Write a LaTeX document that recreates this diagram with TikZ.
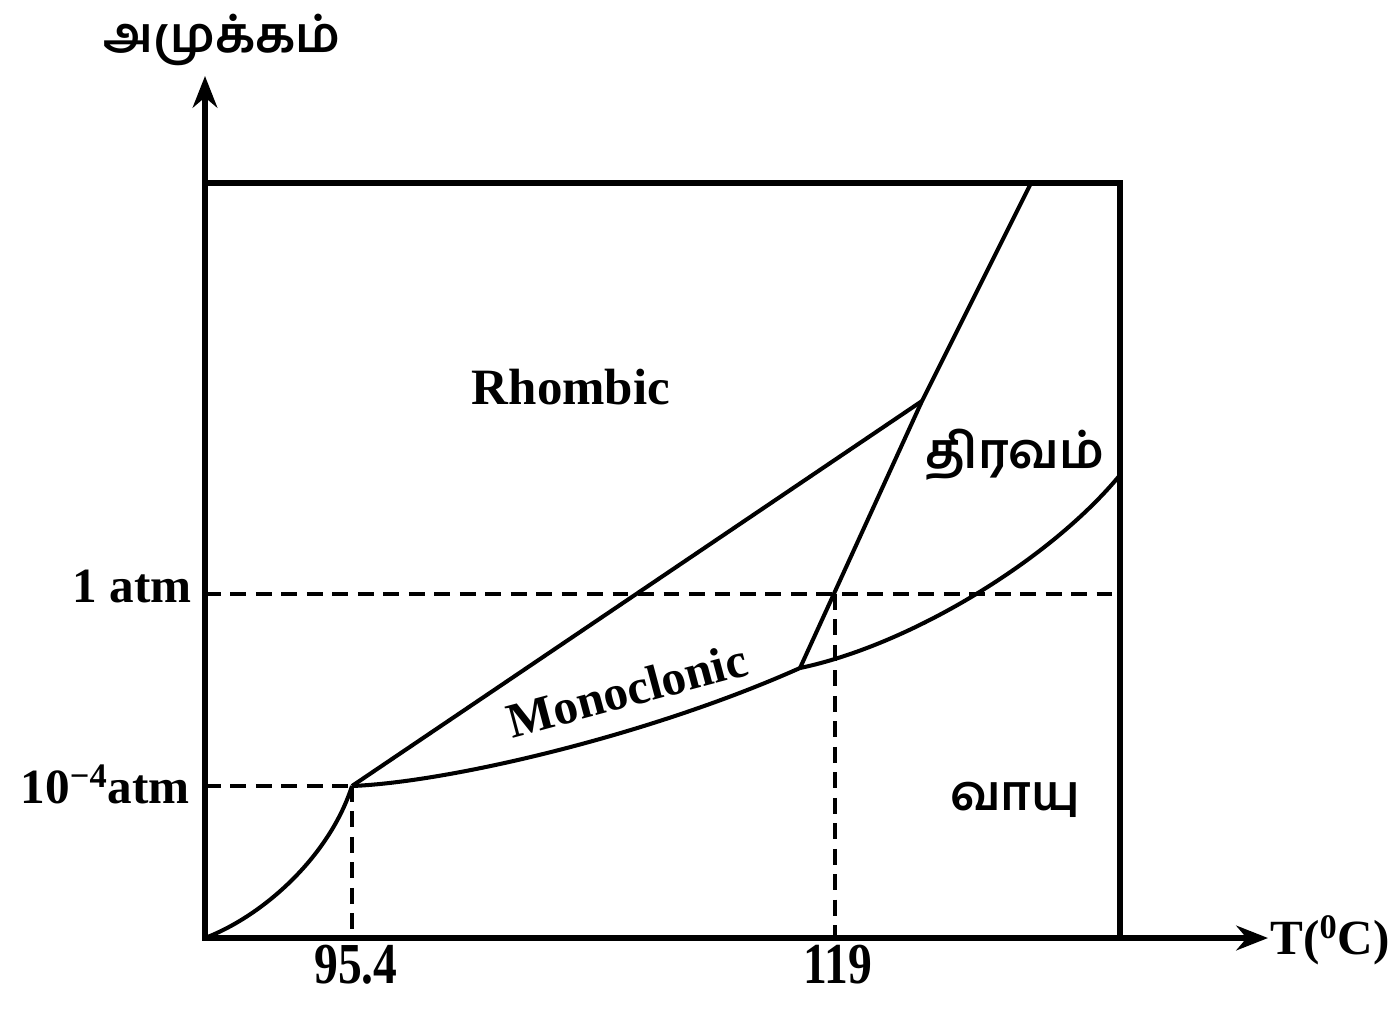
\documentclass[tikz,border=0pt]{standalone}
\usepackage{fontspec}
\setmainfont{Liberation Serif}
\newfontfamily\tamil[Script=Tamil]{Hind Madurai}
\usetikzlibrary{arrows.meta}
\begin{document}
\begin{tikzpicture}[x=0.02cm,y=-0.02cm,
  frame/.style={line width=3.2pt},
  curve/.style={line width=2.3pt},
  guide/.style={line width=2.2pt, dash pattern=on 9pt off 5.5pt},
  axisarrow/.style={line width=3pt, -{Stealth[length=18pt,width=14pt]}},
  lab/.style={font=\fontsize{28}{32}\selectfont\bfseries, inner sep=0pt},
  num/.style={font=\fontsize{33}{36}\selectfont\bfseries, inner sep=0pt},
  ta/.style={font=\fontsize{28}{32}\selectfont\tamil\bfseries, inner sep=0pt}]
\useasboundingbox (0,0) rectangle (1393,1019);
% corners
\coordinate (O) at (205,938);
\coordinate (TL) at (205,183);
\coordinate (TR) at (1120,183);
\coordinate (BR) at (1120,938);
\coordinate (Yend) at (205,76);
\coordinate (Xend) at (1268,938);
% key points
\coordinate (T1) at (352,786);
\coordinate (T2) at (800,668);
\coordinate (T3) at (922,401);
\coordinate (Top) at (1031,183);
\coordinate (LVend) at (1120,475);
\coordinate (A1L) at (205,594);
\coordinate (A1R) at (1120,594);
\coordinate (A4L) at (205,786);
\coordinate (X1) at (352,938);
\coordinate (X2top) at (835,594);
\coordinate (X2) at (835,938);
% frame and axes
\draw[frame] (O) -- (TL) -- (TR) -- (BR) -- cycle;
\draw[axisarrow] (O) -- (Yend);
\draw[axisarrow] (O) -- (Xend);
% dashed guides
\draw[guide] (A1L) -- (A1R);
\draw[guide] (A4L) -- (T1);
\draw[guide] (T1) -- (X1);
\draw[guide] (X2top) -- (X2);
% phase boundaries
\draw[curve] (O) .. controls (265,915) and (330,855) .. (T1);
\draw[curve] (T1) -- (T3);
\draw[curve] (T1) .. controls (450,782) and (650,735) .. (T2);
\draw[curve] (T2) -- (T3) -- (Top);
\draw[curve] (T2) .. controls (910,645) and (1050,560) .. (LVend);
% labels
\node[ta] (ylab) at (222,40) {அமுக்கம்};
\node[lab, anchor=west] (xlab) at (1270,940) {T(\textsuperscript{0}C)};
\node[lab, anchor=east] (atm1) at (192,586) {1 atm};
\node[lab, anchor=east] (atm4) at (190,784) {10\textsuperscript{−4}atm};
\node[num] (t954) at (356,965) {\scalebox{0.82}[1]{95.4}};
\node[num] (t119) at (838,965) {\scalebox{0.82}[1]{119}};
\node[lab, font=\fontsize{29}{32}\selectfont\bfseries] (rhomb) at (571,387) {Rhombic};
\node[lab, rotate=15] (mono) at (627,690) {Monoclonic};
\node[ta] (liq) at (1015,455) {திரவம்};
\node[ta] (gas) at (1015,800) {வாயு};
\end{tikzpicture}
\end{document}
